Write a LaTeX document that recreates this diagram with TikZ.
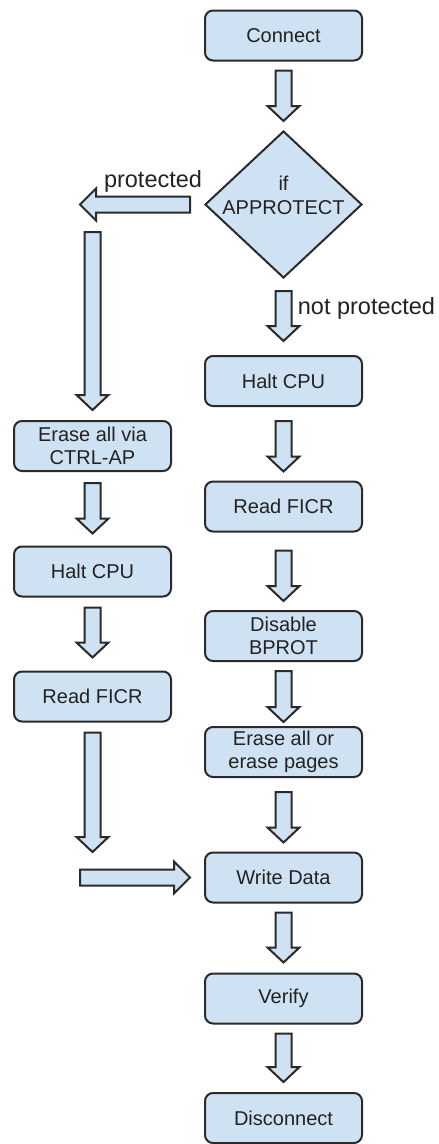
\documentclass[tikz,border=0pt]{standalone}
\usepackage{fontspec}
\setmainfont{Liberation Sans}
\usetikzlibrary{calc,shapes.geometric}
\definecolor{boxfill}{HTML}{CFE2F3}
\definecolor{boxline}{HTML}{2A2A2A}
\definecolor{txt}{HTML}{222222}
\tikzset{
  flowbox/.style={rectangle, rounded corners=8pt, draw=boxline, line width=2pt, fill=boxfill,
    minimum width=157pt, minimum height=50pt, inner sep=0pt, text=txt, align=center,
    font=\fontsize{20}{23}\selectfont},
  decision/.style={diamond, draw=boxline, line width=2pt, fill=boxfill,
    minimum width=157pt, minimum height=147pt, inner sep=0pt},
  decisiontext/.style={text=txt, align=center, inner sep=0pt, font=\fontsize{20}{24}\selectfont},
  branchlabel/.style={text=txt, inner sep=0pt, font=\fontsize{23.5}{26}\selectfont},
  barrow/.style={draw=boxline, fill=boxfill, line width=2pt, line join=miter}
}
% block arrow pointing down: tail centre #1, tip #2
\newcommand\ArrV[2]{\draw[barrow] let \p1=#1, \p2=#2 in
  (\x1-8pt,\y1) -- (\x1+8pt,\y1) -- (\x1+8pt,\y2+15pt) -- (\x1+16pt,\y2+15pt) --
  (\x1,\y2) -- (\x1-16pt,\y2+15pt) -- (\x1-8pt,\y2+15pt) -- cycle;}
% block arrow pointing left: tail centre #1, tip #2
\newcommand\ArrL[2]{\draw[barrow] let \p1=#1, \p2=#2 in
  (\x1,\y1+8pt) -- (\x2+16pt,\y1+8pt) -- (\x2+16pt,\y1+16pt) -- (\x2,\y1) --
  (\x2+16pt,\y1-16pt) -- (\x2+16pt,\y1-8pt) -- (\x1,\y1-8pt) -- cycle;}
% block arrow pointing right: tail centre #1, tip #2
\newcommand\ArrR[2]{\draw[barrow] let \p1=#1, \p2=#2 in
  (\x1,\y2+8pt) -- (\x2-16pt,\y2+8pt) -- (\x2-16pt,\y2+16pt) -- (\x2,\y2) --
  (\x2-16pt,\y2-16pt) -- (\x2-16pt,\y2-8pt) -- (\x1,\y2-8pt) -- cycle;}
\begin{document}
\begin{tikzpicture}[x=1pt,y=-1pt]
  \fill[white] (0,0) rectangle (439,1144);
  \useasboundingbox (0,0) rectangle (439,1144);

  % right column
  \node[flowbox] (connect) at (283.5,35.5) {Connect};
  \node[decision] (dia) at (283.5,204.5) {};
  \node[decisiontext] (diatext) at (283.5,195) {if\\APPROTECT};
  \node[flowbox] (haltR) at (283.5,381) {Halt CPU};
  \node[flowbox] (ficrR) at (283.5,506.5) {Read FICR};
  \node[flowbox] (bprot) at (283.5,636) {Disable\\BPROT};
  \node[flowbox] (eraseR) at (283.5,752) {Erase all or\\erase pages};
  \node[flowbox] (write) at (283.5,877.5) {Write Data};
  \node[flowbox] (verify) at (283.5,998.5) {Verify};
  \node[flowbox] (disc) at (283.5,1118) {Disconnect};

  % left column
  \node[flowbox] (eraseL) at (92.5,446) {Erase all via\\CTRL-AP};
  \node[flowbox] (haltL) at (92.5,571.5) {Halt CPU};
  \node[flowbox] (ficrL) at (92.5,696.5) {Read FICR};

  % labels
  \node[branchlabel] (lprot) at (153,181) {protected};
  \node[branchlabel] (lnot) at (366.5,308) {not protected};

  % free ends of the connectors
  \coordinate (protTip) at (80,204.5);
  \coordinate (longTop) at (92.5,232);
  \coordinate (longTip) at (92.5,852);
  \coordinate (joinTail) at (80,878);

  % right column arrows
  \ArrV{($(connect.south)+(0,-9pt)$)}{($(dia.north)+(0,9pt)$)}
  \ArrV{($(dia.south)+(0,-12pt)$)}{($(haltR.north)+(0,14pt)$)}
  \ArrV{($(haltR.south)+(0,-14pt)$)}{($(ficrR.north)+(0,9pt)$)}
  \ArrV{($(ficrR.south)+(0,-18pt)$)}{($(bprot.north)+(0,9pt)$)}
  \ArrV{($(bprot.south)+(0,-9pt)$)}{($(eraseR.north)+(0,4pt)$)}
  \ArrV{($(eraseR.south)+(0,-14pt)$)}{($(write.north)+(0,9pt)$)}
  \ArrV{($(write.south)+(0,-9pt)$)}{($(verify.north)+(0,10pt)$)}
  \ArrV{($(verify.south)+(0,-9pt)$)}{($(disc.north)+(0,10pt)$)}

  % left branch arrows
  \ArrL{($(dia.west)+(-14pt,0)$)}{(protTip)}
  \ArrV{(longTop)}{($(eraseL.north)+(0,10pt)$)}
  \ArrV{($(eraseL.south)+(0,-11pt)$)}{($(haltL.north)+(0,12pt)$)}
  \ArrV{($(haltL.south)+(0,-10pt)$)}{($(ficrL.north)+(0,13pt)$)}
  \ArrV{($(ficrL.south)+(0,-10pt)$)}{(longTip)}
  \ArrR{(joinTail)}{($(write.west)+(-14pt,0)$)}
\end{tikzpicture}
\end{document}
